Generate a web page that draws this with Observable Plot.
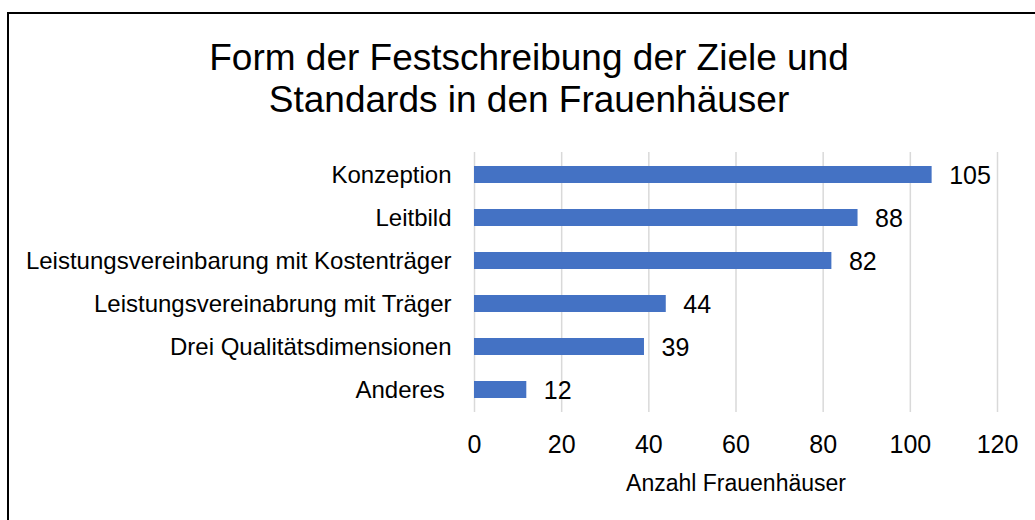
<!DOCTYPE html>
<html>
<head>
<meta charset="utf-8">
<script src="https://cdn.jsdelivr.net/npm/d3@7"></script>
<script src="https://cdn.jsdelivr.net/npm/@observablehq/plot@0.6"></script>
<style>
  html, body { margin: 0; padding: 0; background: #fff; }
  body { width: 1035px; height: 520px; overflow: hidden; position: relative; font-family: "Liberation Sans", Arial, sans-serif; }
  #frame { position: absolute; left: 7px; top: 12px; width: 3000px; height: 3000px; border-top: 2px solid #000; border-left: 2px solid #000; box-sizing: border-box; pointer-events: none; }
  #title { position: absolute; left: 0; top: 0; width: 1035px; box-sizing: border-box; padding-left: 23px; padding-top: 37px; height: 130px; text-align: center; font-size: 37px; line-height: 42px; color: #000; }
  #chart { position: absolute; left: 0; top: 130px; }
  #chart svg text { white-space: pre; }
</style>
</head>
<body>
<div id="frame"></div>
<div id="title">Form der Festschreibung der Ziele und<br>Standards in den Frauenhäuser</div>
<div id="chart"></div>
<script>
const categories = [
  "Konzeption",
  "Leitbild",
  "Leistungsvereinbarung mit Kostenträger",
  "Leistungsvereinabrung mit Träger",
  "Drei Qualitätsdimensionen",
  "Anderes "
];
const values = [105, 88, 82, 44, 39, 12];
const xTicks = [0, 20, 40, 60, 80, 100, 120];
const xLabel = "Anzahl Frauenhäuser";

const data = categories.map((c, i) => ({category: c, value: values[i]}));

const chart = Plot.plot({
  width: 1035,
  height: 390,
  marginTop: 22,
  marginBottom: 108,
  marginLeft: 474,
  marginRight: 38,
  style: {fontFamily: "'Liberation Sans', Arial, sans-serif", fontSize: "24px", color: "#000", background: "transparent"},
  x: {domain: [0, 120], ticks: xTicks},
  y: {domain: categories, paddingInner: 0.6, paddingOuter: 0.3},
  marks: [
    Plot.gridX(xTicks, {stroke: "#d9d9d9", strokeOpacity: 1, strokeWidth: 1.5}),
    Plot.barX(data, {x: "value", y: "category", fill: "#4472C4"}),
    Plot.text(data, {x: "value", y: "category", text: d => String(d.value), textAnchor: "start", dx: 17, dy: 1, fontSize: 25, fill: "#000"}),
    Plot.axisY({tickSize: 0, tickPadding: 23, fontSize: 24, label: null}),
    Plot.axisX({ticks: xTicks, tickSize: 0, tickPadding: 23, fontSize: 25, label: xLabel, labelAnchor: "center", labelOffset: 78, labelArrow: "none"})
  ]
});
// axis label slightly smaller than tick labels
chart.querySelectorAll("text").forEach(t => { if (t.textContent === xLabel) t.setAttribute("font-size", 23); });
document.getElementById("chart").appendChild(chart);
</script>
</body>
</html>
